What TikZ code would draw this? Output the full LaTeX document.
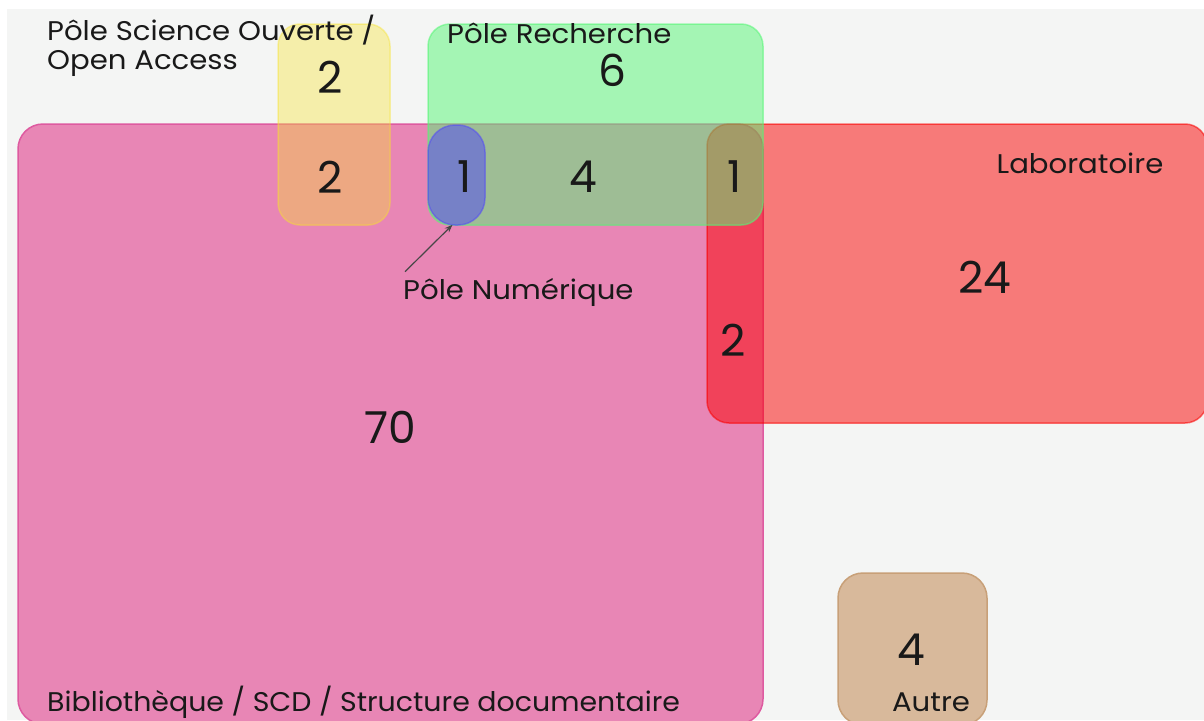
\documentclass[tikz,border=0pt]{standalone}
\usepackage{fontspec}
\setmainfont{Poppins}
\usetikzlibrary{arrows.meta}
\definecolor{bg}{RGB}{244,245,244}
\definecolor{pinkf}{RGB}{232,134,181}
\definecolor{pinkd}{RGB}{222,90,160}
\definecolor{redf}{RGB}{250,0,0}
\definecolor{greenf}{RGB}{86,245,118}
\definecolor{yellowf}{RGB}{247,227,44}
\definecolor{bluef}{RGB}{80,70,250}
\definecolor{brownf}{RGB}{216,185,155}
\definecolor{brownd}{RGB}{200,160,120}
\definecolor{txt}{RGB}{25,25,25}
\newcommand{\wide}[1]{\scalebox{1.08}[1]{#1}}
\tikzset{
  area/.style={rectangle, inner sep=0pt, line width=1.5pt},
  num/.style={text=txt, font=\fontsize{44}{44}\selectfont, inner sep=0pt},
  lab/.style={text=txt, font=\fontsize{27}{29}\selectfont, inner sep=0pt, anchor=west},
}
\begin{document}
\begin{tikzpicture}[x=1pt,y=1pt]
\useasboundingbox (0,0) rectangle (1204,-720);
\clip (0,0) rectangle (1204,-720);
\fill[white] (0,0) rectangle (1204,-720);
\fill[bg] (7,-9) rectangle (1204,-720);
% areas
\node[area, fill=pinkf, draw=pinkd, rounded corners=25pt, minimum width=745pt, minimum height=600pt] (biblio) at (390.5,-424) {};
\node[area, fill=redf, fill opacity=0.5, draw=redf, draw opacity=0.55, rounded corners=22pt, minimum width=500pt, minimum height=299pt] (labo) at (957,-273.5) {};
\node[area, fill=greenf, fill opacity=0.5, draw=greenf, draw opacity=0.55, rounded corners=22pt, minimum width=335pt, minimum height=201pt] (rech) at (595.5,-124.5) {};
\node[area, fill=yellowf, fill opacity=0.37, draw=yellowf, draw opacity=0.4, rounded corners=22pt, minimum width=112pt, minimum height=201pt] (so) at (334,-124.5) {};
\node[area, fill=bluef, fill opacity=0.5, draw=bluef, draw opacity=0.5, rounded corners=27pt, minimum width=57pt, minimum height=100pt] (numr) at (456.5,-175) {};
\node[area, fill=brownf, draw=brownd, rounded corners=25pt, minimum width=149pt, minimum height=152pt] (autre) at (912.5,-649) {};
% labels
\node[lab, align=left] (solab) at (47,-46) {\wide{Pôle Science Ouverte /}\\\wide{Open Access}};
\node[lab] (rechlab) at (447,-33) {\wide{Pôle Recherche}};
\node[lab, anchor=center] (lablab) at (1080,-163) {\wide{Laboratoire}};
\node[lab] (numlab) at (403,-292) {\wide{Pôle Numérique}};
\node[lab, anchor=center] (autrelab) at (931,-702) {\wide{Autre}};
\node[lab] (biblab) at (47,-702) {\scalebox{1.052}[1]{Bibliothèque / SCD / Structure documentaire}};
% numbers
\node[num] (n1) at (330,-77) {2};
\node[num] (n2) at (330,-177) {2};
\node[num] (n3) at (612,-70) {6};
\node[num] (n4) at (465,-177) {1};
\node[num] (n5) at (583,-177) {4};
\node[num] (n6) at (735,-177) {1};
\node[num] (n7) at (985,-277) {24};
\node[num] (n8) at (733,-340) {2};
\node[num] (n9) at (390,-427) {70};
\node[num] (n10) at (911,-650) {4};
% arrow
\draw[-{Stealth[length=8pt,width=6pt]}, line width=1.2pt, draw=txt!80] ([shift={(2,6)}]numlab.north west) -- ([shift={(-4,1)}]numr.south);
\end{tikzpicture}
\end{document}
